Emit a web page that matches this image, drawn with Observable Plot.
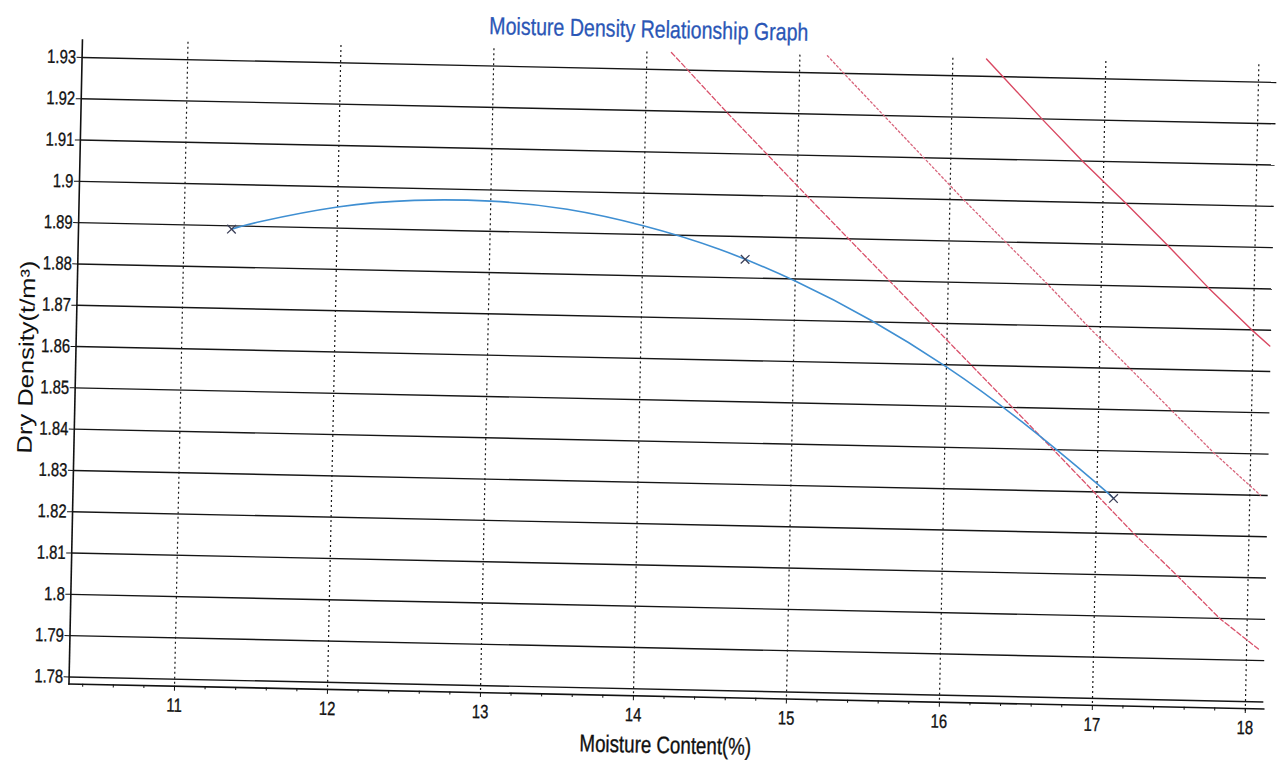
<!DOCTYPE html>
<html><head><meta charset="utf-8">
<script src="https://cdn.jsdelivr.net/npm/d3@7"></script>
<script src="https://cdn.jsdelivr.net/npm/@observablehq/plot@0.6"></script>
<style>
html,body{margin:0;padding:0;background:#fff;overflow:hidden}
#wrap{position:relative;width:1283px;height:771px;background:#fff;transform-origin:670.6px 378px;transform:rotate(1.2deg)}
#title{height:40px;box-sizing:border-box;padding-top:16px;text-align:center;font-family:"Liberation Sans",Arial,sans-serif;font-size:24.5px;line-height:28px;color:#2a56b6;white-space:nowrap;-webkit-text-stroke:0.3px #2a56b6}
#title span{display:inline-block;transform:scaleX(0.8);transform-origin:50% 50%}
svg{display:block}
</style></head>
<body><div id="wrap"><div id="title"><span>Moisture Density Relationship Graph</span></div></div>
<script>
// Tick values / labels
const xTicks = [11, 12, 13, 14, 15, 16, 17, 18];
const xMinorTicks = [10.4,10.6,10.8,11.2,11.4,11.6,11.8,12.2,12.4,12.6,12.8,13.2,13.4,13.6,13.8,14.2,14.4,14.6,14.8,15.2,15.4,15.6,15.8,16.2,16.4,16.6,16.8,17.2,17.4,17.6,17.8,18.0];
const yTicks = [1.78,1.79,1.80,1.81,1.82,1.83,1.84,1.85,1.86,1.87,1.88,1.89,1.90,1.91,1.92,1.93];

// Test points (moisture %, dry density)
const testX = [11.31, 14.67, 17.11];
const testY = [1.8892, 1.8845, 1.8285];

// Fitted compaction curve
const curveX = [11.31, 11.5, 12, 12.5, 13, 13.5, 14, 14.5, 15, 15.5, 16, 16.5, 17, 17.11];
const curveY = [1.8892, 1.8912, 1.8951, 1.8971, 1.8973, 1.8957, 1.8921, 1.8868, 1.8795, 1.8704, 1.8595, 1.8466, 1.8320, 1.8285];

// Air-void lines (read at grid crossings)
const solidX  = [16.22, 16.33, 16.59, 16.86, 17.15, 17.43, 17.70, 17.99, 18.11];
const solidY  = [1.9342, 1.93, 1.92, 1.91, 1.90, 1.89, 1.88, 1.87, 1.8662];
const dottedX = [15.18, 15.29, 16.09, 16.65, 16.92, 17.48, 17.76, 18.07];
const dottedY = [1.9342, 1.93, 1.90, 1.88, 1.87, 1.85, 1.84, 1.83];
const dashedX = [14.16, 14.27, 14.53, 15.07, 16.71, 17.25, 17.54, 17.82, 18.08];
const dashedY = [1.9342, 1.93, 1.92, 1.90, 1.84, 1.82, 1.81, 1.80, 1.7927];

const xTitle = "Moisture Content(%)";
const yTitle = "Dry Density(t/m³)";

const pts = (xs, ys) => xs.map((x, i) => ({x, y: ys[i]}));
const sans = '"Liberation Sans",Arial,sans-serif';

const chart = Plot.plot({
  width: 1283,
  height: 731,
  marginLeft: 75,
  marginRight: 13,
  marginTop: 12,
  marginBottom: 75,
  x: {domain: [10.31, 18.12]},
  y: {domain: [1.7783, 1.9342]},
  style: {background: "transparent", fontFamily: sans, fontSize: "19px", color: "#111", overflow: "visible"},
  marks: [
    Plot.ruleY(yTicks, {stroke: "#151515", strokeWidth: 1.4}),
    Plot.ruleX(xTicks, {stroke: "#1a1a1a", strokeWidth: 1.2, strokeDasharray: "2,3"}),
    Plot.frame({anchor: "left", stroke: "#111", strokeWidth: 1.6}),
    Plot.frame({anchor: "bottom", stroke: "#111", strokeWidth: 1.6}),
    Plot.axisY({ticks: yTicks, tickSize: 5, tickPadding: 1, tickFormat: d => String(+d.toFixed(2)), label: null, fontSize: 19}),
    Plot.axisX({ticks: xTicks, tickSize: 5, tickPadding: 7, tickFormat: d => String(d), label: null, fontSize: 19}),
    Plot.axisX({ticks: xMinorTicks, tickSize: 3, tickFormat: () => "", label: null}),
    Plot.line(pts(dashedX, dashedY), {x: "x", y: "y", stroke: "#d9506a", strokeWidth: 1.3, strokeDasharray: "5,2.5"}),
    Plot.line(pts(dottedX, dottedY), {x: "x", y: "y", stroke: "#d8657c", strokeWidth: 1.3, strokeDasharray: "2,2.5"}),
    Plot.line(pts(solidX, solidY), {x: "x", y: "y", stroke: "#d94862", strokeWidth: 1.4}),
    Plot.line(pts(curveX, curveY), {x: "x", y: "y", stroke: "#3f8fd2", strokeWidth: 1.6, curve: "natural"}),
    Plot.dot(pts(testX, testY), {x: "x", y: "y", symbol: "times", r: 4, stroke: "#3b3f58", strokeWidth: 1.3}),
    Plot.text([xTitle], {frameAnchor: "bottom", dy: 49, text: d => d, fontSize: 24, textAnchor: "middle", lineAnchor: "middle", fill: "#111"}),
    Plot.text([yTitle], {frameAnchor: "left", dx: -49, dy: -4, rotate: -90, text: d => d, fontSize: 21, textAnchor: "middle", lineAnchor: "middle", fill: "#111"})
  ]
});
document.getElementById("wrap").appendChild(chart);

// The scanned chart uses a condensed face: compress horizontal texts, slightly embolden
const tickTexts = chart.querySelectorAll('g[aria-label="y-axis tick label"] text, g[aria-label="x-axis tick label"] text');
const allTexts = Array.from(chart.querySelectorAll("text"));
const xTitleEl = allTexts.find(t => t.textContent === xTitle);
const yTitleEl = allTexts.find(t => t.textContent === yTitle);
[...tickTexts, xTitleEl].forEach(t => {
  if (!t) return;
  const len = t.getComputedTextLength();
  if (len > 0) {
    t.setAttribute("textLength", (len * 0.78).toFixed(2));
    t.setAttribute("lengthAdjust", "spacingAndGlyphs");
  }
  t.setAttribute("stroke", "#111");
  t.setAttribute("stroke-width", "0.35");
});
if (yTitleEl) {
  yTitleEl.setAttribute("textLength", "193");
  yTitleEl.setAttribute("lengthAdjust", "spacingAndGlyphs");
}
</script>
</body></html>
